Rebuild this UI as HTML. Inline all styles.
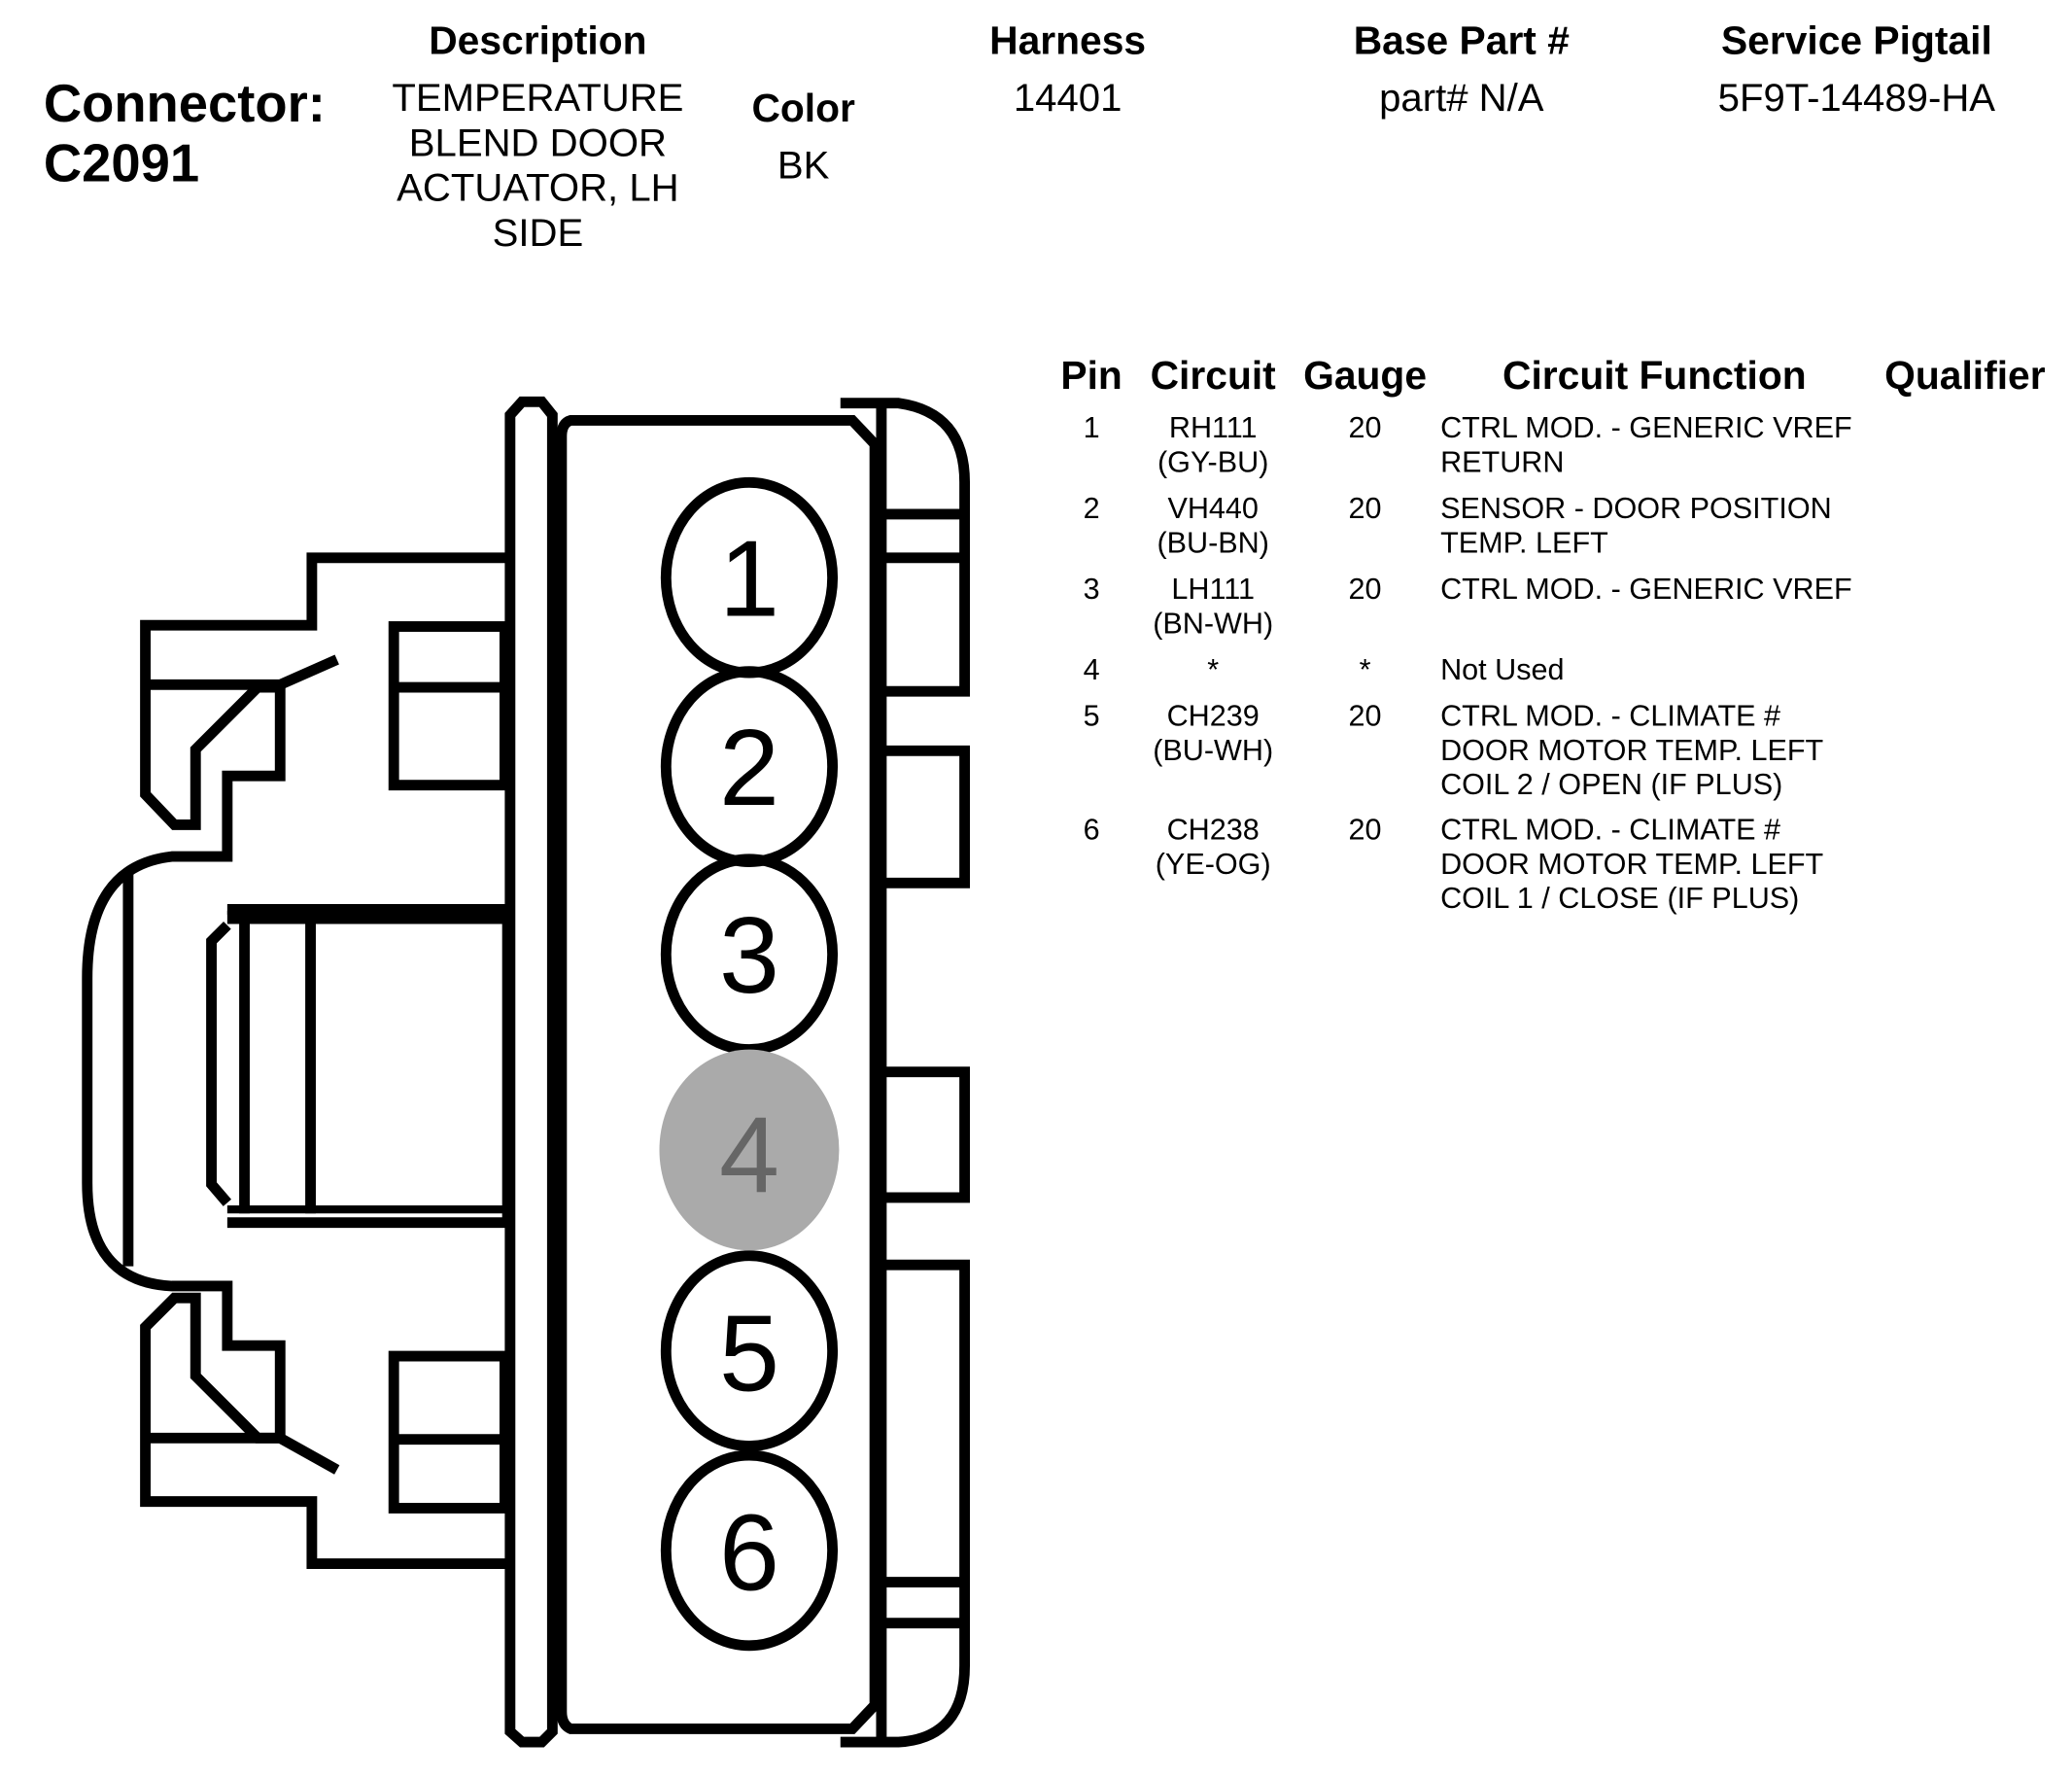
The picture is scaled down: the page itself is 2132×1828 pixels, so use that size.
<!DOCTYPE html>
<html><head><meta charset="utf-8"><style>
html,body{margin:0;padding:0;background:#fff;}
svg{display:block;}
text{font-family:"Liberation Sans",Arial,sans-serif;}
.h{font-weight:bold;font-size:30px;}
.d{font-size:29.5px;}
.t{font-size:22.5px;}
</style></head><body>
<svg width="2132" height="1828" viewBox="0 0 1568 1344.4" xmlns="http://www.w3.org/2000/svg">
<rect width="1568" height="1345" fill="#fff"/>
<text x="33" y="92" font-weight="bold" font-size="40">Connector:</text>
<text x="33" y="137" font-weight="bold" font-size="40">C2091</text>
<g text-anchor="middle">
<text class="h" x="407" y="41">Description</text>
<text class="d" x="407" y="84">TEMPERATURE</text>
<text class="d" x="407" y="118">BLEND DOOR</text>
<text class="d" x="407" y="152">ACTUATOR, LH</text>
<text class="d" x="407" y="186">SIDE</text>
<text class="h" x="608" y="92">Color</text>
<text class="d" x="608" y="135">BK</text>
<text class="h" x="808" y="41">Harness</text>
<text class="d" x="808" y="84">14401</text>
<text class="h" x="1106" y="41">Base Part #</text>
<text class="d" x="1106" y="84">part# N/A</text>
<text class="h" x="1405" y="41">Service Pigtail</text>
<text class="d" x="1405" y="84">5F9T-14489-HA</text>
<text class="h" x="826" y="294">Pin</text>
<text class="h" x="918" y="294">Circuit</text>
<text class="h" x="1033" y="294">Gauge</text>
<text class="h" x="1252" y="294">Circuit Function</text>
<text class="h" x="1487" y="294">Qualifier</text>
<g class="t">
<text x="826" y="331">1</text><text x="918" y="331">RH111</text><text x="918" y="357">(GY-BU)</text><text x="1033" y="331">20</text>
<text x="826" y="392">2</text><text x="918" y="392">VH440</text><text x="918" y="418">(BU-BN)</text><text x="1033" y="392">20</text>
<text x="826" y="453">3</text><text x="918" y="453">LH111</text><text x="918" y="479">(BN-WH)</text><text x="1033" y="453">20</text>
<text x="826" y="514">4</text><text x="918" y="514">*</text><text x="1033" y="514">*</text>
<text x="826" y="549">5</text><text x="918" y="549">CH239</text><text x="918" y="575">(BU-WH)</text><text x="1033" y="549">20</text>
<text x="826" y="635">6</text><text x="918" y="635">CH238</text><text x="918" y="661">(YE-OG)</text><text x="1033" y="635">20</text>
</g>
</g>
<g class="t">
<text x="1090" y="331">CTRL MOD. - GENERIC VREF</text><text x="1090" y="357">RETURN</text>
<text x="1090" y="392">SENSOR - DOOR POSITION</text><text x="1090" y="418">TEMP. LEFT</text>
<text x="1090" y="453">CTRL MOD. - GENERIC VREF</text>
<text x="1090" y="514">Not Used</text>
<text x="1090" y="549">CTRL MOD. - CLIMATE #</text><text x="1090" y="575">DOOR MOTOR TEMP. LEFT</text><text x="1090" y="601">COIL 2 / OPEN (IF PLUS)</text>
<text x="1090" y="635">CTRL MOD. - CLIMATE #</text><text x="1090" y="661">DOOR MOTOR TEMP. LEFT</text><text x="1090" y="687">COIL 1 / CLOSE (IF PLUS)</text>
</g>

<g fill="none" stroke="#000" stroke-width="8" stroke-linejoin="miter">
<path d="M395,304 L410,304 L418,314 L418,1310 L410,1318 L395,1318 L386,1310 L386,314 Z"/>
<path d="M432,318 L645,318 L662,336 L662,1290 L645,1308 L432,1308 Q425,1305 425,1295 L425,330 Q425,320 432,318 Z"/>
<!-- right cap -->
<path d="M636,305 L680,305 Q730,312 730,365 L730,523 L667,523"/>
<path d="M667,389 L730,389 M667,422 L730,422"/>
<path d="M667,568 L730,568 L730,668 L667,668"/>
<path d="M667,811 L730,811 L730,906 L667,906"/>
<path d="M667,957 L730,957 L730,1260 Q730,1315 680,1318 L636,1318"/>
<path d="M667,1197 L730,1197 M667,1228 L730,1228"/>
<line x1="667" y1="305" x2="667" y2="1318"/>
<path d="M386,422 L236,422 L236,473 L110,473 L110,601 L132,624 L148,624 L148,567 L195,520 L212,520 L212,587 L172,587 L172,648 L130,648 Q66,655 66,740 L66,895 Q66,970 130,973 L172,973 L172,1018 L212,1018 L212,1088 L195,1088 L148,1041 L148,982 L132,982 L110,1004 L110,1136 L236,1136 L236,1183 L386,1183"/>
<path d="M110,518 L212,518 L255,499"/>
<path d="M110,1088 L212,1088 L255,1112"/>
<line x1="97" y1="658" x2="97" y2="958"/>
<path d="M172,688 L384,688 L384,925 L172,925"/>
<line x1="172" y1="694" x2="384" y2="694" stroke-width="10"/>
<line x1="172" y1="915" x2="384" y2="915" stroke-width="6"/>
<path d="M172,700 L160,712 L160,896 L172,910"/>
<line x1="185" y1="690" x2="185" y2="918"/>
<line x1="235" y1="690" x2="235" y2="918"/>
<rect x="298" y="474" width="84" height="120"/>
<line x1="298" y1="520" x2="382" y2="520"/>
<rect x="298" y="1026" width="84" height="115"/>
<line x1="298" y1="1089" x2="382" y2="1089"/>
<ellipse cx="567" cy="437" rx="63" ry="72"/>
<ellipse cx="567" cy="580" rx="63" ry="72"/>
<ellipse cx="567" cy="722" rx="63" ry="72"/>
<ellipse cx="567" cy="1022" rx="63" ry="72"/>
<ellipse cx="567" cy="1173" rx="63" ry="72"/>
</g>
<ellipse cx="567" cy="870" rx="68" ry="76" fill="#aaa"/>
<g text-anchor="middle" font-size="82">
<text x="567" y="466">1</text>
<text x="567" y="609">2</text>
<text x="567" y="751">3</text>
<text x="567" y="902" fill="#666">4</text>
<text x="567" y="1052">5</text>
<text x="567" y="1203">6</text>
</g>
</svg>
</body></html>
